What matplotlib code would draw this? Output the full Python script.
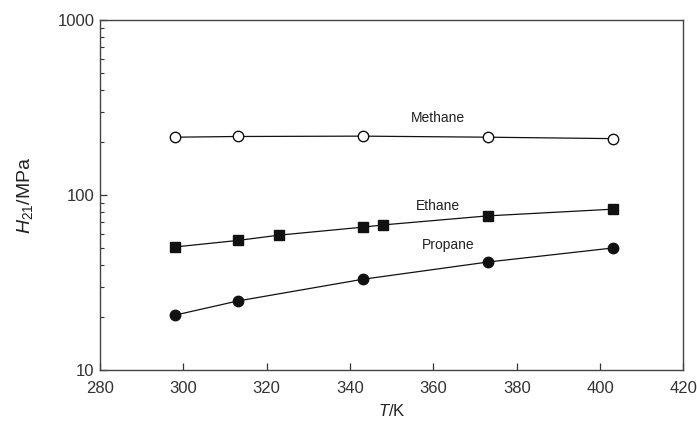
import matplotlib
matplotlib.use("Agg")
import matplotlib.pyplot as plt
from matplotlib.ticker import LogLocator, NullFormatter, FixedLocator, FixedFormatter

plt.rcParams['font.family'] = ['Liberation Sans', 'DejaVu Sans']
plt.rcParams['mathtext.fontset'] = 'custom'
plt.rcParams['mathtext.rm'] = 'Liberation Sans'
plt.rcParams['mathtext.it'] = 'Liberation Sans:italic'

T_methane = [298, 313, 343, 373, 403]
H_methane = [214, 216, 217, 214, 210]
T_ethane = [298, 313, 323, 343, 348, 373, 403]
H_ethane = [50.5, 55, 59, 65.5, 67.5, 76, 83]
T_propane = [298, 313, 343, 373, 403]
H_propane = [20.6, 24.8, 33, 41.4, 49.8]

labels = ["Methane", "Ethane", "Propane"]
label_pos = [(361, 275), (361, 86.5), (363.5, 51.8)]

fig = plt.figure(figsize=(6.97, 4.21), dpi=100)
ax = fig.add_axes([0.1435, 0.121, 0.837, 0.8315])
c = '#111111'
ax.plot(T_methane, H_methane, '-o', color=c, mfc='white', mec=c, ms=7.5, lw=0.9, mew=1.0)
ax.plot(T_ethane, H_ethane, '-s', color=c, ms=6.5, lw=0.9)
ax.plot(T_propane, H_propane, '-o', color=c, ms=7.5, lw=0.9)
for t, p in zip(labels, label_pos):
    ax.text(p[0], p[1], t, ha='center', va='center', fontsize=10, color='#222222')

ax.set_yscale('log')
ax.set_xlim(280, 420)
ax.set_ylim(10, 1000)
ax.set_xticks(range(280, 421, 20))
ax.yaxis.set_major_locator(FixedLocator([10, 100, 1000]))
ax.yaxis.set_major_formatter(FixedFormatter(['10', '100', '1000']))
ax.yaxis.set_minor_locator(LogLocator(base=10, subs=range(2, 10)))
ax.yaxis.set_minor_formatter(NullFormatter())
ax.tick_params(axis='both', which='major', direction='in', length=5, width=0.9,
               labelsize=12, colors='#333333', pad=4)
ax.tick_params(axis='x', which='major', pad=8)
ax.tick_params(axis='y', which='minor', direction='in', length=3, width=0.8, colors='#333333')
ax.tick_params(top=False, right=False)
for s in ax.spines.values():
    s.set_color('#444444')
    s.set_linewidth(1.0)
ax.set_xlabel(r'$T$/K', fontsize=12, labelpad=5, color='#222222')
ax.set_ylabel(r'$H_{21}$/MPa', fontsize=14, labelpad=16, color='#222222')
fig.savefig('out.png', dpi=100)
